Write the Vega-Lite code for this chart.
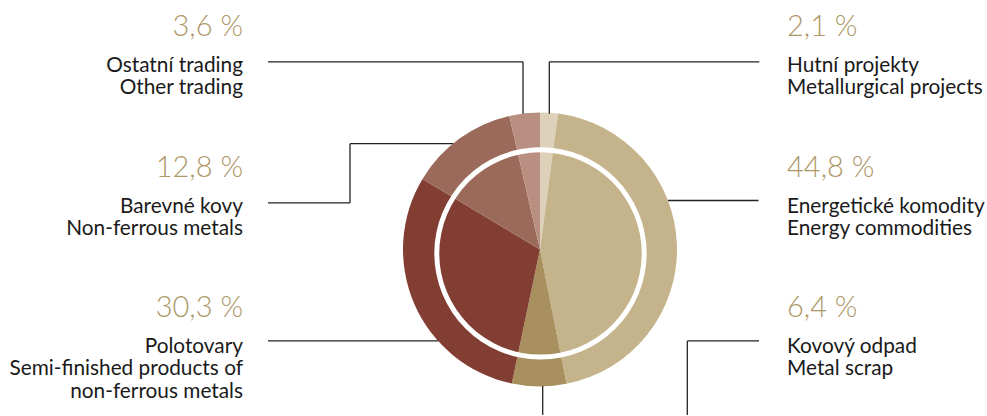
{
  "$schema": "https://vega.github.io/schema/vega-lite/v6.json",
  "width": 987,
  "height": 416,
  "autosize": {"type": "fit", "contains": "padding"},
  "padding": 0,
  "background": "white",
  "config": {"view": {"stroke": null}},
  "datasets": {
    "slices": [
      {"i": 1, "name": "Hutní projekty", "v": 2.1},
      {"i": 2, "name": "Energetické komodity", "v": 44.8},
      {"i": 3, "name": "Kovový odpad", "v": 6.4},
      {"i": 4, "name": "Polotovary", "v": 30.3},
      {"i": 5, "name": "Barevné kovy", "v": 12.8},
      {"i": 6, "name": "Ostatní trading", "v": 3.6}
    ],
    "leaders": [
      {"a": -272, "b": -188, "c": -17, "d": -188},
      {"a": -17, "b": -188, "c": -17, "d": -136},
      {"a": 9.3, "b": -136, "c": 9.3, "d": -188},
      {"a": 9.3, "b": -188, "c": 219.3, "d": -188},
      {"a": -272, "b": -46.7, "c": -190, "d": -46.7},
      {"a": -190, "b": -46.7, "c": -190, "d": -106},
      {"a": -190, "b": -106, "c": -86.7, "d": -106},
      {"a": 128, "b": -49, "c": 218.5, "d": -49},
      {"a": -272, "b": 91.7, "c": -101.8, "d": 91.7},
      {"a": 147.3, "b": 91.7, "c": 219, "d": 91.7},
      {"a": 147.3, "b": 91.7, "c": 147.3, "d": 166},
      {"a": 2.7, "b": 137, "c": 2.7, "d": 166}
    ],
    "labels": [
      {"t": "3,6 %", "x": -297, "y": -213.8, "side": "L", "kind": "pct"},
      {"t": "Ostatní trading", "x": -297, "y": -178.3, "side": "L", "kind": "txt"},
      {"t": "Other trading", "x": -297, "y": -155.8, "side": "L", "kind": "txt"},
      {"t": "12,8 %", "x": -297, "y": -72.5, "side": "L", "kind": "pct"},
      {"t": "Barevné kovy", "x": -297, "y": -36.8, "side": "L", "kind": "txt"},
      {"t": "Non-ferrous metals", "x": -297, "y": -14.3, "side": "L", "kind": "txt"},
      {"t": "30,3 %", "x": -297, "y": 68.2, "side": "L", "kind": "pct"},
      {"t": "Polotovary", "x": -297, "y": 103.7, "side": "L", "kind": "txt"},
      {"t": "Semi-finished products of", "x": -297, "y": 126.2, "side": "L", "kind": "txt"},
      {"t": "non-ferrous metals", "x": -297, "y": 148.7, "side": "L", "kind": "txt"},
      {"t": "2,1 %", "x": 247, "y": -213.8, "side": "R", "kind": "pct"},
      {"t": "Hutní projekty", "x": 247, "y": -178.3, "side": "R", "kind": "txt"},
      {"t": "Metallurgical projects", "x": 247, "y": -155.8, "side": "R", "kind": "txt"},
      {"t": "44,8 %", "x": 247, "y": -72.5, "side": "R", "kind": "pct"},
      {"t": "Energetické komodity", "x": 247, "y": -36.8, "side": "R", "kind": "txt"},
      {"t": "Energy commodities", "x": 247, "y": -14.3, "side": "R", "kind": "txt"},
      {"t": "6,4 %", "x": 247, "y": 68.2, "side": "R", "kind": "pct"},
      {"t": "Kovový odpad", "x": 247, "y": 103.7, "side": "R", "kind": "txt"},
      {"t": "Metal scrap", "x": 247, "y": 126.2, "side": "R", "kind": "txt"}
    ]
  },
  "layer": [
    {
      "data": {"name": "slices"},
      "mark": {"type": "arc", "outerRadius": 137, "stroke": null},
      "encoding": {
        "x": {"datum": 0, "type": "quantitative", "scale": {"domain": [-540, 447], "nice": false, "zero": false}, "axis": null},
        "y": {"datum": 0, "type": "quantitative", "scale": {"domain": [-250, 166], "nice": false, "zero": false, "reverse": true}, "axis": null},
        "theta": {"field": "v", "type": "quantitative", "stack": true},
        "order": {"field": "i", "type": "quantitative"},
        "color": {
          "field": "name", "type": "nominal", "legend": null,
          "scale": {
            "domain": ["Hutní projekty", "Energetické komodity", "Kovový odpad", "Polotovary", "Barevné kovy", "Ostatní trading"],
            "range": ["#ddd1b9", "#c5b38c", "#a8905e", "#823e33", "#9c6a5a", "#b88f80"]
          }
        }
      }
    },
    {
      "data": {"values": [{"ring": 1}]},
      "mark": {"type": "arc", "theta": 0, "theta2": 6.2832, "innerRadius": 101.2, "outerRadius": 106.2, "fill": "white"},
      "encoding": {
        "x": {"datum": 0.5, "type": "quantitative"},
        "y": {"datum": 4, "type": "quantitative"}
      }
    },
    {
      "data": {"name": "leaders"},
      "mark": {"type": "rule", "color": "#222222", "strokeWidth": 1.3},
      "encoding": {
        "x": {"field": "a", "type": "quantitative"},
        "y": {"field": "b", "type": "quantitative"},
        "x2": {"field": "c"},
        "y2": {"field": "d"}
      }
    },
    {
      "data": {"name": "labels"},
      "transform": [{"filter": "datum.kind == 'pct' && datum.side == 'L'"}],
      "mark": {"type": "text", "font": "Lato", "fontSize": 29, "fontWeight": 300, "color": "#ad9767", "baseline": "alphabetic", "align": "right"},
      "encoding": {
        "x": {"field": "x", "type": "quantitative"},
        "y": {"field": "y", "type": "quantitative"},
        "text": {"field": "t"}
      }
    },
    {
      "data": {"name": "labels"},
      "transform": [{"filter": "datum.kind == 'pct' && datum.side == 'R'"}],
      "mark": {"type": "text", "font": "Lato", "fontSize": 29, "fontWeight": 300, "color": "#ad9767", "baseline": "alphabetic", "align": "left"},
      "encoding": {
        "x": {"field": "x", "type": "quantitative"},
        "y": {"field": "y", "type": "quantitative"},
        "text": {"field": "t"}
      }
    },
    {
      "data": {"name": "labels"},
      "transform": [{"filter": "datum.kind == 'txt' && datum.side == 'L'"}],
      "mark": {"type": "text", "font": "Lato", "fontSize": 20.8, "fontWeight": 400, "color": "#1a1a1a", "baseline": "alphabetic", "align": "right"},
      "encoding": {
        "x": {"field": "x", "type": "quantitative"},
        "y": {"field": "y", "type": "quantitative"},
        "text": {"field": "t"}
      }
    },
    {
      "data": {"name": "labels"},
      "transform": [{"filter": "datum.kind == 'txt' && datum.side == 'R'"}],
      "mark": {"type": "text", "font": "Lato", "fontSize": 20.8, "fontWeight": 400, "color": "#1a1a1a", "baseline": "alphabetic", "align": "left"},
      "encoding": {
        "x": {"field": "x", "type": "quantitative"},
        "y": {"field": "y", "type": "quantitative"},
        "text": {"field": "t"}
      }
    }
  ]
}
